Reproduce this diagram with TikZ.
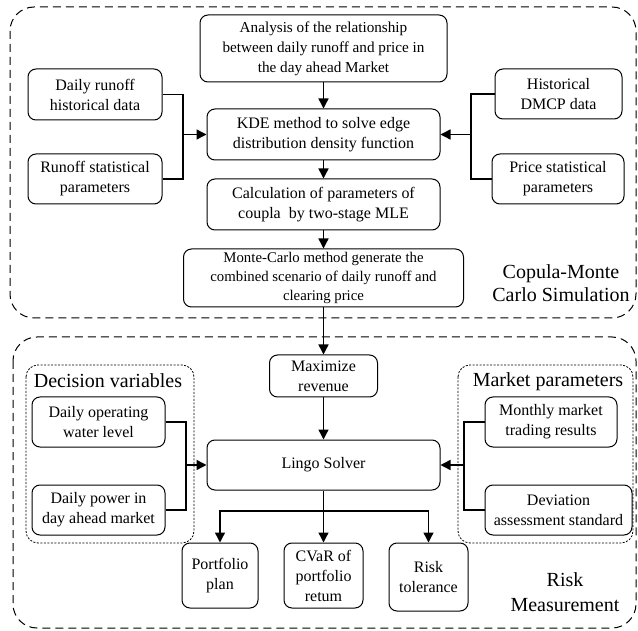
\documentclass[tikz,border=0pt]{standalone}
\usepackage{fontspec}
\setmainfont{Liberation Serif}
\usepackage{tikz}
\usetikzlibrary{arrows.meta,calc,positioning}

\begin{document}
\begin{tikzpicture}[x=1pt,y=-1pt,>={Triangle[length=10pt,width=10pt]},
  font=\fontsize{16}{20}\selectfont,
  box/.style={draw,line width=1pt,rounded corners=8pt,align=center,inner sep=1pt},
  link/.style={line width=1.4pt},
  feed/.style={line width=1.2pt},
  frame/.style={line width=1pt,dash pattern=on 8pt off 5pt,rounded corners=24pt},
  group/.style={line width=.8pt,dash pattern=on 2pt off 1.5pt,rounded corners=12pt},
  biglabel/.style={align=center,font=\fontsize{20}{23}\selectfont}]
\useasboundingbox (0,0) rectangle (638,631);
% outer frames
\draw[frame] (10,7) rectangle (636,318);
\draw[frame] (13,337) rectangle (636,628);
\draw[group] (26,365) rectangle (194,543);
\draw[group] (458,365) rectangle (633,543);
% copula-monte carlo part
\node[box,minimum width=247,minimum height=67,font=\fontsize{15.2}{20}\selectfont] (ana) at (323.5,48.5) {Analysis of the relationship\\between daily runoff and price in\\the day ahead Market};
\node[box,minimum width=233,minimum height=51] (kde) at (323.5,134.5) {KDE method to solve edge\\distribution density function};
\node[box,minimum width=233,minimum height=51] (calc) at (323.5,204.5) {Calculation of parameters of\\coupla\ \ by two-stage MLE};
\node[box,minimum width=280,minimum height=58,inner sep=0pt,font=\fontsize{14.8}{19}\selectfont] (mc) at (323.5,278) {Monte-Carlo method generate the\\combined scenario of daily runoff and\\clearing price};
\node[box,minimum width=134,minimum height=51] (hist) at (95,94.5) {Daily runoff\\historical data};
\node[box,minimum width=134,minimum height=50] (rsp) at (95,179) {Runoff statistical\\parameters};
\node[box,minimum width=127,minimum height=50] (dmcp) at (558.5,94) {Historical\\DMCP data};
\node[box,minimum width=132,minimum height=50] (psp) at (558,179) {Price statistical\\parameters};
\node[biglabel] (cmc) at (561,283) {Copula-Monte\\Carlo Simulation};
\coordinate (jl) at (183,134.5);
\coordinate (jr) at (471,134.5);
\draw[feed] (hist.east) -| (jl) |- (rsp.east);
\draw[feed] (dmcp.west) -| (jr) |- (psp.west);
\draw[link,->] (jl) -- (kde.west);
\draw[link,->] (jr) -- (kde.east);
\draw[link,->] (ana) -- (kde);
\draw[link,->] (kde) -- (calc);
\draw[link,->] (calc) -- (mc);
% risk measurement part
\node[box,minimum width=108,minimum height=42] (maxr) at (323.5,376) {Maximize\\revenue};
\node[box,minimum width=233,minimum height=50] (lingo) at (323.5,465) {Lingo Solver};
\node[biglabel] (dv) at (108,381) {Decision variables};
\node[biglabel] (mp) at (548,382) {Market parameters};
\node[box,minimum width=133,minimum height=50] (dow) at (98.5,422) {Daily operating\\water level};
\node[box,minimum width=133,minimum height=50] (dpw) at (98.5,510) {Daily power in\\day ahead market};
\node[box,minimum width=132,minimum height=50] (mmt) at (551,422) {Monthly market\\trading results};
\node[box,minimum width=147,minimum height=50] (das) at (558.5,510) {Deviation\\assessment standard};
\node[box,minimum width=76,minimum height=65] (port) at (220,575.5) {Portfolio\\plan};
\node[box,minimum width=79,minimum height=65] (cvar) at (323.5,575.5) {CVaR of\\portfolio\\retum};
\node[box,minimum width=79,minimum height=68] (risk) at (428.5,577) {Risk\\tolerance};
\node[biglabel,font=\fontsize{20}{25}\selectfont] (rm) at (565,592) {Risk\\Measurement};
\coordinate (jd) at (186,465);
\coordinate (jm) at (464,465);
\coordinate (jb) at (323.5,511);
\draw[link,->] (mc) -- (maxr);
\draw[link,->] (maxr) -- (lingo);
\draw[feed] (dow.east) -| (jd) |- (dpw.east);
\draw[feed] (mmt.west) -| (jm) |- (das.west);
\draw[link,->] (jd) -- (lingo.west);
\draw[link,->] (jm) -- (lingo.east);
\draw[link,->] (lingo) -- (cvar);
\draw[link,->] (jb) -| (port.north);
\draw[link,->] (jb) -| (risk.north);
\end{tikzpicture}
\end{document}
